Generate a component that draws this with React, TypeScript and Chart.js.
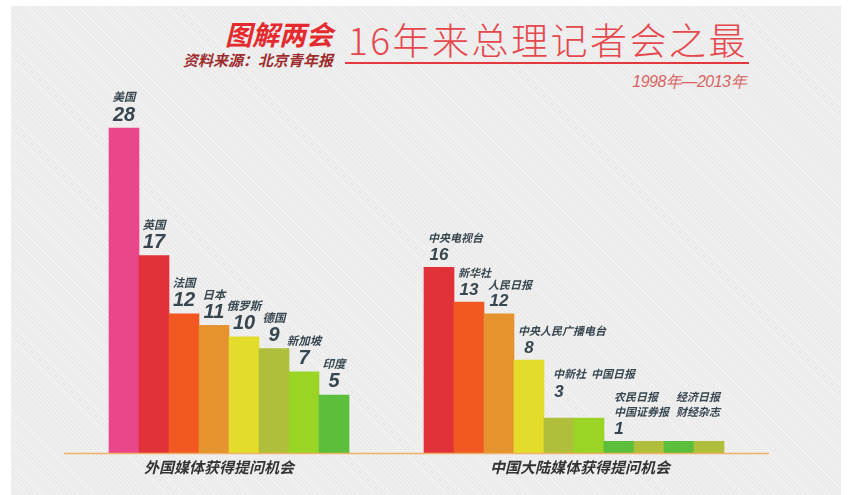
import React, { useEffect, useRef } from "react";
import { Chart, registerables } from "chart.js";

Chart.register(...registerables);

const foreignNames = ["美国", "英国", "法国", "日本", "俄罗斯", "德国", "新加坡", "印度"];
const foreignValues = [28, 17, 12, 11, 10, 9, 7, 5];
const foreignColors = ["#e9478a", "#e1323a", "#f25822", "#e5932f", "#e4dc2b", "#b0bf3b", "#9ad424", "#5cbf3c"];

const domesticNames = ["中央电视台", "新华社", "人民日报", "中央人民广播电台", "中新社", "中国日报", "农民日报", "中国证券报", "经济日报", "财经杂志"];
const domesticValues = [16, 13, 12, 8, 3, 3, 1, 1, 1, 1];
const domesticColors = ["#e1323a", "#f25822", "#e5932f", "#e4dc2b", "#b0bf3b", "#9ad424", "#5cbf3c", "#b0bf3b", "#5cbf3c", "#b0bf3b"];

const groupTitles = ["外国媒体获得提问机会", "中国大陆媒体获得提问机会"];

const GROUP_GAP = 2.5;
const CJK = "'Noto Sans CJK SC', 'Noto Sans', sans-serif";
const NUM = "'Liberation Sans', Arial, sans-serif";
const LABEL_COLOR = "#37464f";

const labelPlugin = {
  id: "barLabels",
  afterDatasetsDraw(chart: any) {
    const ctx = chart.ctx;
    const area = chart.chartArea;
    ctx.save();
    // axis line
    ctx.strokeStyle = "#efb166";
    ctx.lineWidth = 1.5;
    ctx.beginPath();
    ctx.moveTo(area.left, area.bottom + 0.5);
    ctx.lineTo(area.right, area.bottom + 0.5);
    ctx.stroke();

    ctx.fillStyle = LABEL_COLOR;
    ctx.textBaseline = "middle";

    // foreign labels
    const m0 = chart.getDatasetMeta(0);
    m0.data.forEach((el: any, i: number) => {
      ctx.textAlign = "center";
      ctx.font = `italic bold 11.5px ${CJK}`;
      ctx.fillText(foreignNames[i], el.x, el.y - 31);
      ctx.font = `italic bold 20px ${NUM}`;
      ctx.fillText(String(foreignValues[i]), el.x, el.y - 13);
    });

    // domestic labels (bars with equal consecutive values share one label)
    const m1 = chart.getDatasetMeta(1);
    let i = 0;
    while (i < domesticValues.length) {
      let j = i;
      while (j + 1 < domesticValues.length && domesticValues[j + 1] === domesticValues[i]) j++;
      const size = j - i + 1;
      const first = m1.data[i];
      const left = first.x - first.width / 2;
      const lift = size === 2 ? 14 : 0;
      ctx.font = `italic bold 17px ${NUM}`;
      ctx.textAlign = "center";
      ctx.fillText(String(domesticValues[i]), first.x, first.y - 12 - lift);
      ctx.font = `italic bold 11px ${CJK}`;
      ctx.textAlign = "left";
      if (size === 1) {
        ctx.fillText(domesticNames[i], left + 4, first.y - 29);
      } else if (size === 2) {
        ctx.fillText(domesticNames[i] + "  " + domesticNames[i + 1], left + 9, first.y - 30 - lift);
      } else {
        for (let c = 0; c * 2 < size; c++) {
          const colEl = m1.data[i + c * 2];
          const cx = colEl.x - colEl.width / 2 + 10 + c * 2;
          ctx.fillText(domesticNames[i + c * 2], cx, first.y - 45);
          if (i + c * 2 + 1 <= j) ctx.fillText(domesticNames[i + c * 2 + 1], cx, first.y - 30);
        }
      }
      i = j + 1;
    }

    // group titles
    const xs = chart.scales.x;
    ctx.fillStyle = "#333333";
    ctx.font = `italic bold 15px ${CJK}`;
    ctx.textAlign = "center";
    const c0 = xs.getPixelForValue((foreignValues.length - 1) / 2);
    const d0 = foreignValues.length + GROUP_GAP;
    const c1 = xs.getPixelForValue(d0 + (domesticValues.length - 1) / 2);
    ctx.fillText(groupTitles[0], c0 - 10, area.bottom + 14);
    ctx.fillText(groupTitles[1], c1 + 6, area.bottom + 14);
    ctx.restore();
  },
};

export default function App() {
  const ref = useRef<HTMLCanvasElement>(null);

  useEffect(() => {
    if (!ref.current) return;
    const chart = new Chart(ref.current, {
      type: "bar",
      data: {
        datasets: [
          {
            label: "外国媒体",
            data: foreignValues.map((v, i) => ({ x: i, y: v })),
            backgroundColor: foreignColors,
            barThickness: 30,
            grouped: false,
          } as any,
          {
            label: "中国大陆媒体",
            data: domesticValues.map((v, i) => ({ x: i + foreignValues.length + GROUP_GAP, y: v })),
            backgroundColor: domesticColors,
            barThickness: 30,
            grouped: false,
          } as any,
        ],
      },
      options: {
        animation: false,
        responsive: false,
        maintainAspectRatio: false,
        layout: { padding: { left: 64, right: 93, top: 104.8, bottom: 42 } },
        scales: {
          x: { type: "linear", min: -2, max: 21.5, display: false, offset: false, grid: { offset: false } },
          y: { min: 0, max: 30, display: false },
        },
        plugins: { legend: { display: false }, tooltip: { enabled: false } },
      },
      plugins: [labelPlugin],
    });
    return () => chart.destroy();
  }, []);

  const abs = (s: React.CSSProperties): React.CSSProperties => ({ position: "absolute", whiteSpace: "nowrap", margin: 0, ...s });

  return (
    <div style={{ position: "fixed", left: 0, top: 0, width: 862, height: 495, background: "#ffffff", overflow: "hidden" }}>
      <div
        style={abs({
          left: 11,
          top: 6,
          width: 830,
          height: 489,
          background: "#ebebeb",
          backgroundImage: "repeating-linear-gradient(45deg, rgba(255,255,255,0.35) 0px, rgba(255,255,255,0.35) 1px, rgba(0,0,0,0) 1px, rgba(0,0,0,0) 3px)",
        })}
      />
      <div style={abs({ left: 0, width: 333, textAlign: "right", top: 20, fontFamily: CJK, fontSize: 27, lineHeight: "27px", fontWeight: 700, fontStyle: "italic", color: "#e42a2e" })}>
        图解两会
      </div>
      <div style={abs({ left: 0, width: 333, textAlign: "right", top: 52, fontFamily: CJK, fontSize: 15, lineHeight: "15px", fontWeight: 700, fontStyle: "italic", color: "#9e2b2d" })}>
        资料来源：北京青年报
      </div>
      <div style={abs({ left: 348, top: 21, fontFamily: CJK, fontSize: 37, lineHeight: "37px", fontWeight: 300, letterSpacing: 2.5, color: "#e6474c" })}>
        16年来总理记者会之最
      </div>
      <div style={abs({ left: 345, top: 62, width: 404, height: 2, background: "#e3383d" })} />
      <div style={abs({ left: 0, width: 746, textAlign: "right", top: 74, fontFamily: NUM, fontSize: 16, lineHeight: "16px", fontWeight: 400, fontStyle: "italic", color: "#d86360", letterSpacing: -0.5 })}>
        1998年—2013年
      </div>
      <canvas ref={ref} width={862} height={495} style={{ position: "absolute", left: 0, top: 0, width: 862, height: 495 }} />
    </div>
  );
}
